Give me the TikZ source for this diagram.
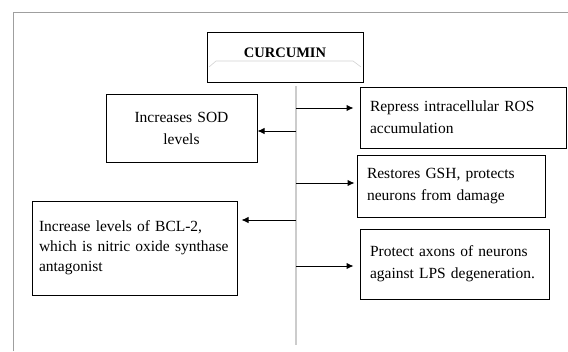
\documentclass[tikz,border=0pt]{standalone}
\usepackage{fontspec}
\setmainfont{Liberation Serif}
\usetikzlibrary{arrows.meta}
\tikzset{
  topbox/.style={rectangle, draw=black, line width=1pt, minimum width=156pt,
                 minimum height=50pt, inner sep=0pt, text height=10pt, text depth=10pt,
                 font=\fontsize{14.5}{17}\selectfont\bfseries},
  effectbox/.style={rectangle, draw=black, line width=1pt, inner xsep=10pt,
                    inner ysep=0pt, align=left, font=\fontsize{15.5}{22}\selectfont},
  arrow/.style={-{Latex[length=7pt, width=6.5pt]}, line width=1pt},
  spine/.style={draw=gray!40, line width=2pt},
  frameline/.style={draw=gray!75, line width=1pt},
  fieldline/.style={draw=gray!35, line width=0.6pt},
}

\begin{document}
\begin{tikzpicture}[x=1pt, y=-1pt]
  \useasboundingbox (0,0) rectangle (568,351);

  % --- Frame ---
  \draw[frameline] (13,351) -- (13,12) -- (568,12);

  % --- Curcumin ---
  \node[topbox] (cur) at (285,57) {CURCUMIN};
  \draw[fieldline] (209,67) -- (216,61) -- (353,61) -- (361,67);

  % --- Spine ---
  \coordinate (top) at (296,86);
  \coordinate (bot) at (296,345);
  \draw[spine] (top) -- (bot);

  % --- Effects ---
  \node[effectbox, align=center, text width=131pt, minimum height=68pt]
        (sod) at (181.5,128) {Increases SOD\\levels};
  \node[effectbox, text width=186pt, minimum height=61pt]
        (ros) at (463,117.5) {Repress intracellular ROS\\accumulation};
  \node[effectbox, text width=168pt, minimum height=62pt]
        (gsh) at (451,186) {Restores GSH, protects\\neurons from damage};
  \node[effectbox, inner xsep=7pt, text width=191pt, minimum height=94pt,
        font=\fontsize{15.5}{20}\selectfont]
        (bcl) at (134.5,248) {Increase levels of BCL-2,\\which is nitric oxide synthase\\antagonist};
  \node[effectbox, text width=169pt, minimum height=70pt]
        (lps) at (454.5,264) {Protect axons of neurons\\against LPS degeneration.};

  % --- Arrows ---
  \coordinate (s1) at (296,108);
  \coordinate (s2) at (296,131);
  \coordinate (s3) at (296,183);
  \coordinate (s4) at (296,220);
  \coordinate (s5) at (296,266);
  \draw[arrow, shorten >=6pt] (s1) -- (s1 -| ros.west);
  \draw[arrow] (s2) -- (s2 -| sod.east);
  \draw[arrow, shorten >=2pt] (s3) -- (s3 -| gsh.west);
  \draw[arrow, shorten >=4pt] (s4) -- (s4 -| bcl.east);
  \draw[arrow, shorten >=6pt] (s5) -- (s5 -| lps.west);
\end{tikzpicture}
\end{document}
